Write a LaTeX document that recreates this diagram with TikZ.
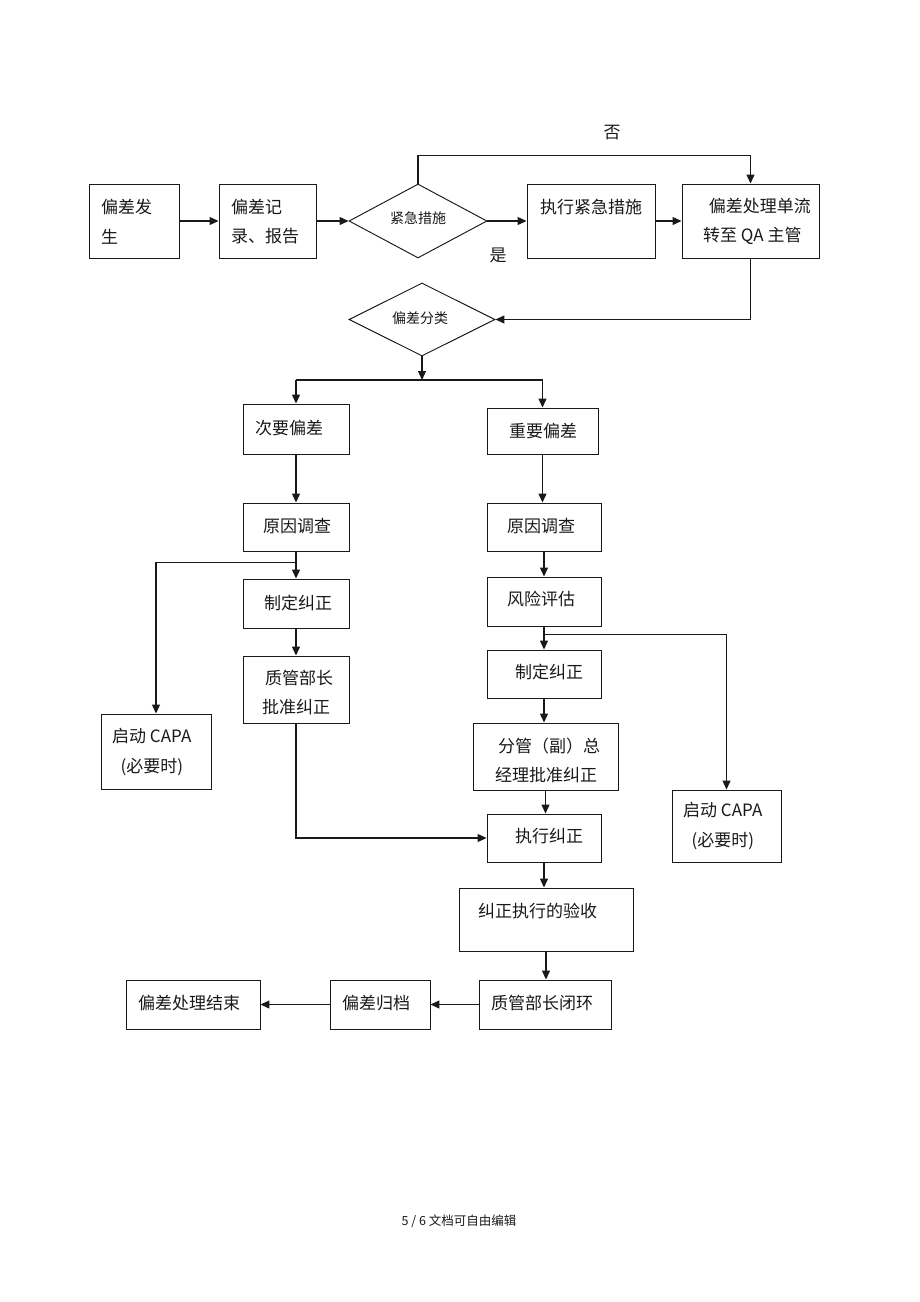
\documentclass[tikz,border=0pt]{standalone}
\usepackage{fontspec}
\setmainfont{Noto Sans CJK SC}
\usetikzlibrary{arrows.meta,shapes.geometric,calc}
\begin{document}
\begin{tikzpicture}[x=1pt,y=-1pt,
  box/.style={draw=black!90, line width=0.95pt, rectangle, inner sep=0pt},
  dia/.style={draw=black!90, line width=0.95pt, diamond, inner sep=0pt},
  txt/.style={inner sep=0pt, anchor=west, align=left, font=\fontsize{17}{29.5}\selectfont, text=black!90},
  stxt/.style={inner sep=0pt, font=\fontsize{14}{16}\selectfont, text=black!90},
  conn/.style={line width=1.2pt, draw=black!90},
  arr/.style={conn, -{Triangle[length=9pt,width=8pt]}}]
\useasboundingbox (0,0) rectangle (920,1302);
% row 1
\node[box, minimum width=90pt, minimum height=74pt] (n1) at (134,221) {};
\node[txt] (t1) at (101,221.5) {偏差发\\生};
\node[box, minimum width=97pt, minimum height=74pt] (n2) at (267.5,221) {};
\node[txt] (t2) at (231,221.5) {偏差记\\录、报告};
\node[dia, minimum width=138pt, minimum height=74pt] (d1) at (418,221) {};
\node[stxt] (td1) at (418,218) {紧急措施};
\node[box, minimum width=128pt, minimum height=74pt] (n3) at (591,221) {};
\node[txt] (t3) at (540,207) {执行紧急措施};
\node[box, minimum width=137pt, minimum height=74pt] (n4) at (750.5,221) {};
\node[txt] (t4) at (703,221.5) {\,\,偏差处理单流\\转至 QA 主管};
\node[txt, anchor=center] (tno) at (612,133) {否};
\node[txt, anchor=center] (tyes) at (498,255) {是};
% classification
\node[dia, minimum width=146pt, minimum height=73pt] (d2) at (422,319.5) {};
\node[stxt] (td2) at (420,318) {偏差分类};
\coordinate (j) at (422,380);
% left column
\node[box, minimum width=106pt, minimum height=50pt] (n5) at (296,429) {};
\node[txt] (t5) at (255,428) {次要偏差};
\node[box, minimum width=106pt, minimum height=48pt] (n6) at (296,527) {};
\node[txt] (t6) at (263,526) {原因调查};
\node[box, minimum width=106pt, minimum height=49pt] (n7) at (296,603.5) {};
\node[txt] (t7) at (264,603) {制定纠正};
\node[box, minimum width=106pt, minimum height=67pt] (n8) at (296,689.5) {};
\node[txt] (t8) at (262,692.5) {\,质管部长\\批准纠正};
\node[box, minimum width=110pt, minimum height=75pt] (n9) at (156,751.5) {};
\node[txt] (t9) at (112,752) {启动 CAPA\\\,\,\,(必要时)};
% right column
\node[box, minimum width=111pt, minimum height=46pt] (n10) at (542.5,431) {};
\node[txt] (t10) at (509,431) {重要偏差};
\node[box, minimum width=114pt, minimum height=48pt] (n11) at (544,527) {};
\node[txt] (t11) at (507,526) {原因调查};
\node[box, minimum width=114pt, minimum height=49pt] (n12) at (544,601.5) {};
\node[txt] (t12) at (507,599) {风险评估};
\node[box, minimum width=114pt, minimum height=48pt] (n13) at (544,674) {};
\node[txt] (t13) at (515,672) {制定纠正};
\node[box, minimum width=145pt, minimum height=67pt] (n14) at (545.5,756.5) {};
\node[txt] (t14) at (495,760.5) {\,分管（副）总\\经理批准纠正};
\node[box, minimum width=114pt, minimum height=48pt] (n15) at (544,838) {};
\node[txt] (t15) at (515,836) {执行纠正};
\node[box, minimum width=109pt, minimum height=72pt] (n16) at (726.5,826) {};
\node[txt] (t16) at (683,826) {启动 CAPA\\\,\,\,(必要时)};
\node[box, minimum width=174pt, minimum height=63pt] (n17) at (546,919.5) {};
\node[txt] (t17) at (478,911) {纠正执行的验收};
\node[box, minimum width=132pt, minimum height=49pt] (n18) at (545,1004.5) {};
\node[txt] (t18) at (491,1003) {质管部长闭环};
\node[box, minimum width=100pt, minimum height=49pt] (n19) at (380,1004.5) {};
\node[txt] (t19) at (342,1003) {偏差归档};
\node[box, minimum width=134pt, minimum height=49pt] (n20) at (193,1004.5) {};
\node[txt] (t20) at (138,1003) {偏差处理结束};
% footer
\node[inner sep=0pt, font=\fontsize{12.5}{14}\selectfont, text=black!90] (foot) at (459,1221) {5 / 6 文档可自由编辑};
% connectors row 1
\draw[arr] (n1.east) -- (n2.west);
\draw[arr] (n2.east) -- (d1.west);
\draw[arr] (d1.east) -- (n3.west);
\draw[arr] (n3.east) -- (n4.west);
\draw[arr] (d1.north) -- ++(0,-28) -| (n4.north);
\draw[arr] (n4.south) |- (d2.east);
% split
\draw[arr] (d2.south) -- (j);
\draw[conn] (n5.north |- j) -- (n10.north |- j);
\draw[arr] (n5.north |- j) -- (n5.north);
\draw[arr] (n10.north |- j) -- (n10.north);
% left column
\draw[arr] (n5.south) -- (n6.north);
\draw[arr] (n6.south) -- (n7.north);
\coordinate (bl) at ($(n6.south)+(0,11)$);
\draw[arr] (bl) -| (n9.north);
\draw[arr] (n7.south) -- (n8.north);
\draw[arr] (n8.south) |- (n15.west);
% right column
\draw[arr] (n10.south) -- (n10.south |- n11.north);
\draw[arr] (n11.south) -- (n12.north);
\draw[arr] (n12.south) -- (n13.north);
\coordinate (br) at ($(n12.south)+(0,8)$);
\draw[arr] (br) -| (n16.north);
\draw[arr] (n13.south) -- (n13.south |- n14.north);
\draw[arr] (n14.south) -- (n14.south |- n15.north);
\draw[arr] (n15.south) -- (n15.south |- n17.north);
\draw[arr] (n17.south) -- (n17.south |- n18.north);
% bottom row
\draw[arr] (n18.west) -- (n19.east);
\draw[arr] (n19.west) -- (n20.east);
\end{tikzpicture}
\end{document}
